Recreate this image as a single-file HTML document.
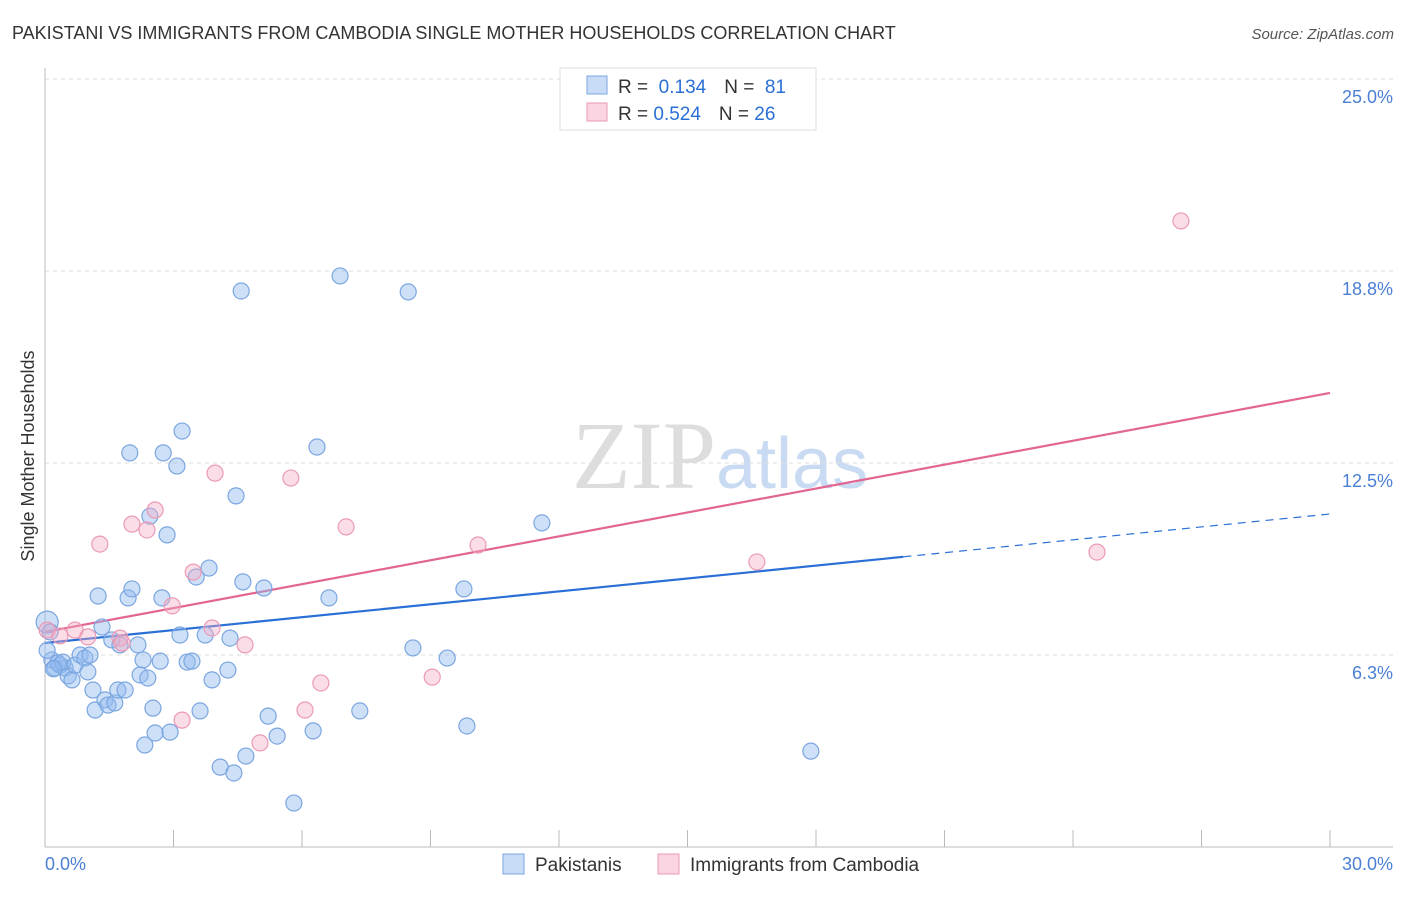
<!DOCTYPE html>
<html><head><meta charset="utf-8"><style>
body{margin:0;background:#fff;font-family:"Liberation Sans",sans-serif}
svg text{font-family:"Liberation Sans",sans-serif}
</style></head><body>
<svg id="chart" width="1406" height="892" viewBox="0 0 1406 892" xmlns="http://www.w3.org/2000/svg">
<text x="12" y="39" font-size="18" fill="#333">PAKISTANI VS IMMIGRANTS FROM CAMBODIA SINGLE MOTHER HOUSEHOLDS CORRELATION CHART</text>
<text x="1394" y="39" font-size="15" fill="#555" text-anchor="end" font-style="italic">Source: ZipAtlas.com</text>
<text x="720" y="488" font-size="96" text-anchor="middle"><tspan fill="#dddddd" font-family="Liberation Serif">ZIP</tspan><tspan fill="#c9daf3" font-size="72">atlas</tspan></text>
<g id="grid"></g>
<g id="axes"></g>
<g id="lines"></g>
<g id="pts"></g>
<text transform="translate(34,456) rotate(-90)" font-size="18" fill="#333" text-anchor="middle">Single Mother Households</text>
<g>
<rect x="560" y="68" width="256" height="62" fill="#fff" stroke="#ddd"/>
<rect x="587" y="76" width="20" height="18" fill="rgba(147,186,240,0.5)" stroke="#7ba6e0"/>
<rect x="587" y="103" width="20" height="18" fill="rgba(245,170,195,0.5)" stroke="#eb9ab5"/>
<text x="618" y="93" font-size="19" fill="#333">R = <tspan fill="#2a6fd6">&#160;0.134</tspan><tspan dx="18">N = </tspan><tspan fill="#2a6fd6">&#160;81</tspan></text>
<text x="618" y="120" font-size="19" fill="#333">R = <tspan fill="#2a6fd6">0.524</tspan><tspan dx="18">N = </tspan><tspan fill="#2a6fd6">26</tspan></text>
</g>
<g>
<rect x="503" y="854" width="21" height="20" fill="rgba(147,186,240,0.5)" stroke="#7ba6e0"/>
<text x="535" y="871" font-size="19" fill="#333">Pakistanis</text>
<rect x="658" y="854" width="21" height="20" fill="rgba(245,170,195,0.5)" stroke="#eb9ab5"/>
<text x="690" y="871" font-size="19" fill="#333">Immigrants from Cambodia</text>
</g>
</svg>
<script>
const yTicks=[25,18.75,12.5,6.25];
const yTickLabels=["25.0%","18.8%","12.5%","6.3%"];
const xTicks=[0,3,6,9,12,15,18,21,24,27,30];
const pakX=[0.05,0.12,0.16,0.23,0.35,0.47,0.54,0.63,0.30,0.42,0.70,0.82,0.93,1.00,1.05,1.12,1.17,1.24,1.33,1.40,1.47,1.56,1.63,1.70,1.75,1.87,1.94,1.98,2.03,2.17,2.22,2.29,2.33,2.40,2.45,2.52,2.57,2.69,2.73,2.76,2.85,2.92,3.08,3.15,3.20,3.32,3.43,3.53,3.62,3.74,3.83,3.90,4.09,4.27,4.32,4.41,4.46,4.58,4.62,4.69,5.11,5.21,5.42,5.81,6.26,6.35,6.63,6.89,7.35,8.48,8.59,9.39,9.78,9.85,11.60,17.88,0.05,0.2];
const pakY=[7.32,7.0,6.09,5.83,5.92,5.83,5.57,5.44,5.99,6.02,5.92,6.25,6.15,5.70,6.25,5.11,4.46,8.17,7.16,4.79,4.62,6.74,4.69,5.11,6.58,5.11,8.11,12.83,8.40,6.58,5.60,6.09,3.32,5.50,10.77,4.52,3.71,6.05,8.11,12.83,10.16,3.74,12.40,6.90,13.54,6.02,6.05,8.79,4.43,6.90,9.08,5.44,2.60,5.76,6.80,2.41,11.43,18.10,8.63,2.96,8.43,4.26,3.61,1.43,3.78,13.02,8.11,18.59,4.43,18.07,6.48,6.15,8.40,3.94,10.55,3.12,6.4,5.8];
const camX=[0.05,0.35,0.70,1.28,1.00,1.75,1.80,2.03,2.38,2.57,2.97,3.20,3.46,3.90,3.97,4.67,5.02,5.74,6.07,6.44,7.03,9.04,10.11,16.62,24.56,26.52];
const camY=[7.06,6.87,7.06,9.86,6.84,6.80,6.64,10.51,10.32,10.97,7.85,4.13,8.95,7.13,12.17,6.58,3.39,12.01,4.46,5.34,10.42,5.53,9.83,9.28,9.60,20.38];
const pakTrend=[6.64,10.84]; const pakSolidEnd=20.04;
const camTrend=[7.0,14.78];
const NS="http://www.w3.org/2000/svg";
const X=v=>45+v*42.833, Y=v=>79+(25-v)*30.72;
function mk(tag,attrs,parent){const e=document.createElementNS(NS,tag);for(const k in attrs)e.setAttribute(k,attrs[k]);document.getElementById(parent).appendChild(e);return e;}
yTicks.forEach((t,i)=>{
 const g=mk('line',{x1:45,x2:1393,y1:Y(t),y2:Y(t),stroke:'#ddd','stroke-dasharray':'4,4'},'grid');
 
 
 const l=mk('text',{x:1393,y:Y(t)+24,'font-size':18,fill:'#4a7fd4','text-anchor':'end'},'axes');
 l.textContent=yTickLabels[i];
 
 
});
const ax=mk('line',{x1:45,x2:1393,y1:Y(0),y2:Y(0),stroke:'#bbb'},'axes');


const ay=mk('line',{x1:45,x2:45,y1:68,y2:Y(0),stroke:'#bbb'},'axes');


xTicks.forEach(t=>{
 const k=mk('line',{x1:X(t),x2:X(t),y1:Y(0)-17,y2:Y(0),stroke:'#bbb'},'axes');
 
 
});
[[0,"0.0%","start",45],[30,"30.0%","end",1393]].forEach(a=>{
 const l=mk('text',{x:a[3],y:870,'font-size':18,fill:'#4a7fd4','text-anchor':a[2]},'axes');
 l.textContent=a[1];
 
 
});
const lerp=(a,t)=>a[0]+(a[1]-a[0])*t/30;
const l1=mk('line',{x1:X(0),y1:Y(pakTrend[0]),x2:X(pakSolidEnd),y2:Y(lerp(pakTrend,pakSolidEnd)),stroke:'#2a6fd6','stroke-width':2.2},'lines');


const l2=mk('line',{x1:X(pakSolidEnd),y1:Y(lerp(pakTrend,pakSolidEnd)),x2:X(30),y2:Y(pakTrend[1]),stroke:'#2a6fd6','stroke-width':1.2,'stroke-dasharray':'8,6'},'lines');


const l3=mk('line',{x1:X(0),y1:Y(camTrend[0]),x2:X(30),y2:Y(camTrend[1]),stroke:'#e26592','stroke-width':2.2},'lines');


pakX.forEach((v,i)=>{
 const c=mk('circle',{cx:X(v),cy:Y(pakY[i]),r:i===0?11:8,fill:'rgba(147,186,240,0.45)',stroke:'#7ba6e0','stroke-width':1.2},'pts');
 
 
});
camX.forEach((v,i)=>{
 const c=mk('circle',{cx:X(v),cy:Y(camY[i]),r:8,fill:'rgba(245,170,195,0.4)',stroke:'#eb9ab5','stroke-width':1.2},'pts');
 
 
});
</script>
</body></html>
